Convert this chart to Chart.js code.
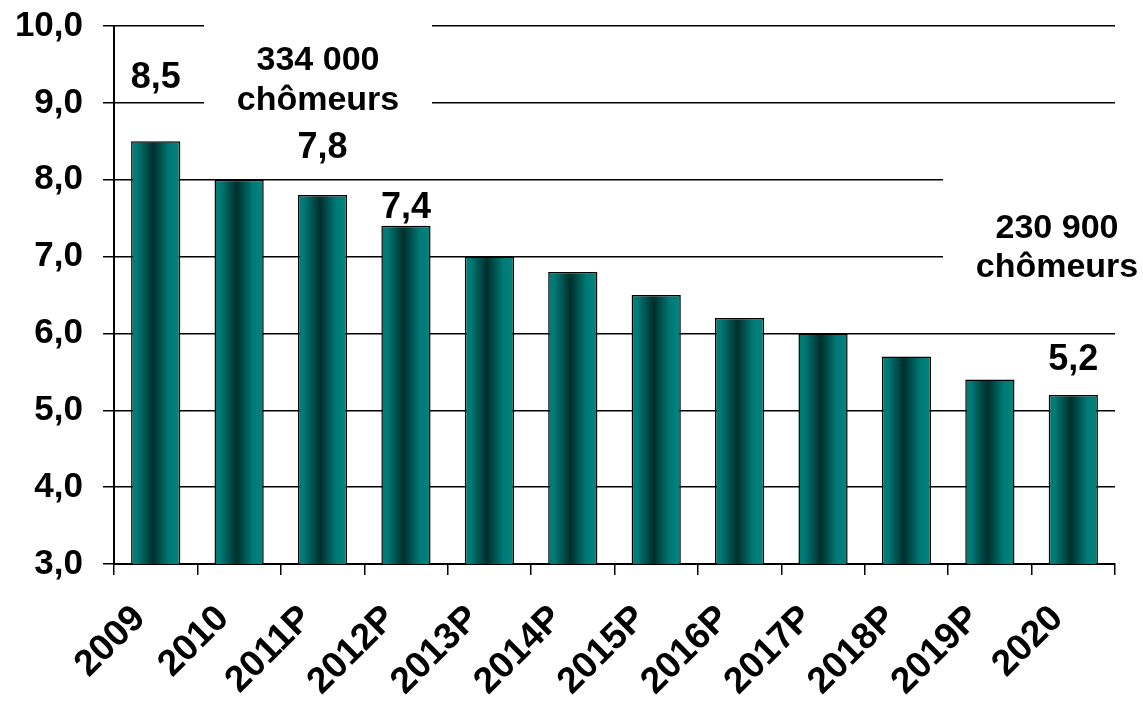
<!DOCTYPE html>
<html lang="fr">
  <head>
    <meta charset="utf-8" />
    <title>Taux de chômage</title>
    <style>
      * {
        margin: 0;
        padding: 0;
      }
      body {
        background: #fff;
      }
      .chartBox {
        width: 1143px;
        height: 706px;
      }
    </style>
  </head>
  <body>
    <div class="chartBox">
      <canvas id="myChart"></canvas>
    </div>

    <script src="https://cdn.jsdelivr.net/npm/chart.js"></script>

    <script>
      const labels = ["2009", "2010", "2011P", "2012P", "2013P", "2014P", "2015P", "2016P", "2017P", "2018P", "2019P", "2020"];
      const rates = [8.5, 8.0, 7.8, 7.4, 7.0, 6.8, 6.5, 6.2, 6.0, 5.7, 5.4, 5.2];
      // bars that carry a value label
      const labelled = [0, 2, 3, 11];
      const notes = [
        ["334 000", "chômeurs"],
        ["230 900", "chômeurs"],
      ];

      const FONT = "'Liberation Sans', Arial, sans-serif";
      const fmt = (v) => v.toFixed(1).replace(".", ",");

      // cylinder-like gradient for each bar
      function barFill(ctx) {
        const chart = ctx.chart;
        const x = chart.scales.x;
        if (!chart.chartArea || !x) return "#007a76";
        const cx = x.getPixelForValue(ctx.dataIndex);
        const w = ((x.right - x.left) / labels.length) * 0.59;
        const g = chart.ctx.createLinearGradient(cx - w / 2, 0, cx + w / 2, 0);
        g.addColorStop(0, "#007d78");
        g.addColorStop(0.12, "#007a76");
        g.addColorStop(0.45, "#002e2c");
        g.addColorStop(0.78, "#007a76");
        g.addColorStop(1, "#008580");
        return g;
      }

      // text labels and the white boxes that cut the gridlines
      const textPlugin = {
        id: "textPlugin",
        afterDatasetsDraw(chart) {
          const { ctx, scales: { x, y } } = chart;
          ctx.save();
          ctx.textAlign = "center";
          ctx.textBaseline = "middle";
          ctx.fillStyle = "#000";

          // value labels
          const lift = [63, 0, 47, 18, 0, 0, 0, 0, 0, 0, 0, 35];
          ctx.font = "bold 36px " + FONT;
          labelled.forEach((i) => {
            const px = x.getPixelForValue(i);
            const py = y.getPixelForValue(rates[i]) - lift[i];
            ctx.fillText(fmt(rates[i]), px, py);
          });

          // annotations
          const boxes = [
            { x0: 204, x1: 432, cx: 318, top: y.getPixelForValue(10) - 4, yl: [61, 101] },
            { x0: 943, x1: 1143, cx: 1057, top: y.getPixelForValue(8) - 4, yl: [229, 268] },
          ];
          notes.forEach((n, k) => {
            const b = boxes[k];
            ctx.fillStyle = "#fff";
            ctx.fillRect(b.x0, b.top, b.x1 - b.x0, b.yl[1] - b.top + 22);
            ctx.fillStyle = "#000";
            ctx.font = "bold 34px " + FONT;
            n.forEach((t, j) => ctx.fillText(t, b.cx, b.yl[j]));
          });
          ctx.restore();
        },
      };

      const data = {
        labels,
        datasets: [
          {
            data: rates,
            backgroundColor: barFill,
            borderColor: "#000",
            borderWidth: 1.5,
            borderSkipped: "bottom",
            categoryPercentage: 1,
            barPercentage: 0.59,
          },
        ],
      };

      const config = {
        type: "bar",
        data,
        options: {
          responsive: true,
          maintainAspectRatio: false,
          animation: false,
          layout: { padding: { top: 26, right: 28, left: 0, bottom: 0 } },
          plugins: {
            legend: { display: false },
            tooltip: { enabled: false },
          },
          scales: {
            x: {
              grid: {
                offset: true,
                drawOnChartArea: false,
                drawTicks: true,
                tickLength: 11,
                color: "#000",
                lineWidth: 1.5,
              },
              border: { display: true, color: "#000", width: 2 },
              ticks: {
                color: "#000",
                font: { family: FONT, size: 37, weight: "bold" },
                minRotation: 45,
                maxRotation: 45,
                padding: 22,
                labelOffset: -16,
                autoSkip: false,
              },
              afterFit(scale) {
                scale.height = 142;
                scale.paddingLeft = 0;
                scale.paddingRight = 0;
              },
            },
            y: {
              min: 3,
              max: 10,
              grid: {
                color: "#000",
                lineWidth: 1.5,
                tickLength: 11,
              },
              border: { display: true, color: "#000", width: 2 },
              ticks: {
                stepSize: 1,
                color: "#000",
                padding: 20,
                font: { family: FONT, size: 35, weight: "bold" },
                callback: (v) => fmt(v),
              },
              afterFit(scale) {
                scale.width = 114;
                scale.paddingTop = 0;
                scale.paddingBottom = 0;
              },
            },
          },
        },
        plugins: [textPlugin],
      };

      const myChart = new Chart(document.getElementById("myChart"), config);
    </script>
  </body>
</html>
